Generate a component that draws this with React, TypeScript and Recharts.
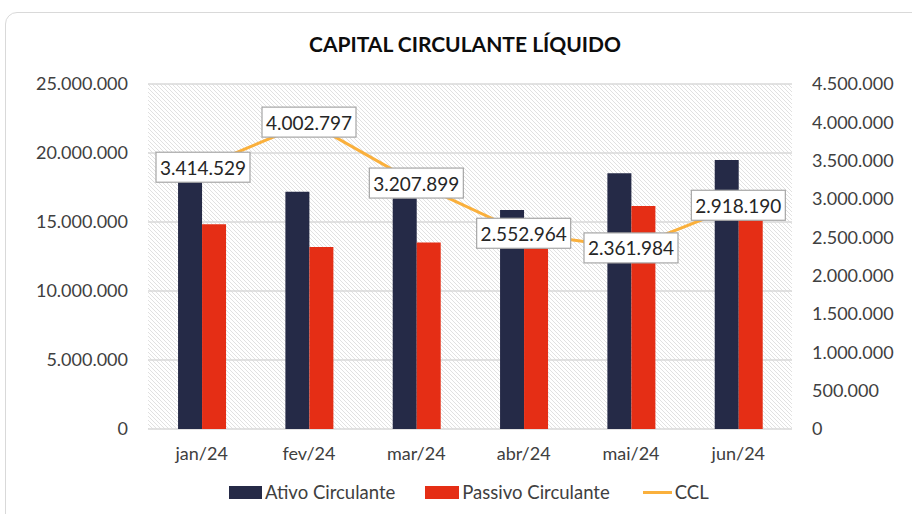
import React from 'react';
import { ComposedChart, Bar, Line, XAxis, YAxis, CartesianGrid, LabelList } from 'recharts';

const months = ['jan/24', 'fev/24', 'mar/24', 'abr/24', 'mai/24', 'jun/24'];
const ativo = [18250000, 17200000, 16720000, 15870000, 18530000, 19490000];
const passivo = [14835000, 13197000, 13512000, 13317000, 16168000, 16572000];
const ccl = [3414529, 4002797, 3207899, 2552964, 2361984, 2918190];
const leftTicks = [0, 5000000, 10000000, 15000000, 20000000, 25000000];
const rightTicks = [0, 500000, 1000000, 1500000, 2000000, 2500000, 3000000, 3500000, 4000000, 4500000];
const boundaryTicks = [0, 1, 2, 3, 4, 5, 6];

const data = months.map((m, i) => ({ month: m, ativo: ativo[i], passivo: passivo[i], ccl: ccl[i] }));

const FONT = 'Lato, "Open Sans", sans-serif';
const NAVY = '#252A47';
const RED = '#E52E15';
const ORANGE = '#FAB03C';
const GRID = '#D9D9D9';
const TEXT = '#404040';

const PLOT_LEFT = 148;
const PLOT_RIGHT = 792;

const fmt = (v: number) => String(Math.round(v)).replace(/\B(?=(\d{3})+(?!\d))/g, '.');

const BoxLabel = (props: any) => {
  const { x, y, value } = props;
  const w = 94;
  const h = 30;
  let cx = x;
  if (cx - w / 2 < PLOT_LEFT + 8) cx = PLOT_LEFT + 8 + w / 2;
  if (cx + w / 2 > PLOT_RIGHT) cx = PLOT_RIGHT - w / 2;
  return (
    <g>
      <rect x={cx - w / 2} y={y - h / 2} width={w} height={h} fill="#fff" stroke="#A6A6A6" strokeWidth={1.2} />
      <text x={cx} y={y} textAnchor="middle" dominantBaseline="central" fontFamily={FONT} fontSize={19} fill="#262626">
        {fmt(value)}
      </text>
    </g>
  );
};

export default function App() {
  return (
    <div style={{ position: 'absolute', left: 0, top: 0, width: 912, height: 514, overflow: 'hidden', background: '#fff', fontFamily: FONT }}>
      <div style={{ position: 'absolute', left: 5, top: 12, width: 960, height: 560, border: `1.5px solid ${GRID}`, borderRadius: 12 }} />
      <div style={{ position: 'absolute', left: 0, top: 33, width: 930, textAlign: 'center', fontSize: 21, lineHeight: '21px', fontWeight: 700, color: '#0D0D0D' }}>
        CAPITAL CIRCULANTE LÍQUIDO
      </div>
      <div style={{ position: 'absolute', left: 0, top: 0 }}>
        <ComposedChart width={912} height={514} data={data} margin={{ top: 84, right: 0, bottom: 45, left: 0 }} barCategoryGap="28%" barGap={0}>
          <defs>
            <pattern id="hatch" width="4" height="4" patternUnits="userSpaceOnUse">
              <rect width="4" height="4" fill="#fff" />
              <path d="M-1,-1 L5,5 M-1,3 L1,5 M3,-1 L5,1" stroke="#DEDEDE" strokeWidth={0.9} />
            </pattern>
          </defs>
          <CartesianGrid yAxisId="left" vertical={false} stroke={GRID} strokeWidth={1.5} fill="url(#hatch)" fillOpacity={1} />
          <XAxis xAxisId="b" type="number" domain={[0, 6]} ticks={boundaryTicks} height={0} tick={false} tickSize={6} tickLine={{ stroke: GRID, strokeWidth: 1.5 }} axisLine={{ stroke: GRID, strokeWidth: 1.5 }} allowDataOverflow />
          <XAxis dataKey="month" height={40} axisLine={false} tickLine={false} tickSize={0} tickMargin={18} tick={{ fill: TEXT, fontSize: 18, fontFamily: FONT }} interval={0} />
          <YAxis yAxisId="left" width={148} domain={[0, 25000000]} ticks={leftTicks} tickFormatter={fmt} axisLine={false} tickLine={false} tickSize={0} tickMargin={20} tick={{ fill: TEXT, fontSize: 18, fontFamily: FONT }} interval={0} />
          <YAxis yAxisId="right" orientation="right" width={120} domain={[0, 4500000]} ticks={rightTicks} tickFormatter={fmt} axisLine={false} tickLine={false} tickSize={0} tickMargin={20} tick={{ fill: TEXT, fontSize: 18, fontFamily: FONT }} interval={0} />
          <Bar yAxisId="left" dataKey="ativo" fill={NAVY} isAnimationActive={false} />
          <Bar yAxisId="left" dataKey="passivo" fill={RED} isAnimationActive={false} />
          <Line yAxisId="right" dataKey="ccl" stroke={ORANGE} strokeWidth={3} dot={false} activeDot={false} isAnimationActive={false}>
            <LabelList dataKey="ccl" content={<BoxLabel />} />
          </Line>
        </ComposedChart>
      </div>
      <div style={{ position: 'absolute', left: 229, top: 482, display: 'flex', alignItems: 'center', fontSize: 18.5, color: TEXT, lineHeight: '20px' }}>
        <span style={{ display: 'inline-block', width: 33, height: 13, background: NAVY, marginRight: 3 }} />
        <span style={{ marginRight: 30 }}>Ativo Circulante</span>
        <span style={{ display: 'inline-block', width: 34, height: 13, background: RED, marginRight: 3 }} />
        <span style={{ marginRight: 33 }}>Passivo Circulante</span>
        <span style={{ display: 'inline-block', width: 29, height: 3, background: ORANGE, marginRight: 3 }} />
        <span>CCL</span>
      </div>
    </div>
  );
}
